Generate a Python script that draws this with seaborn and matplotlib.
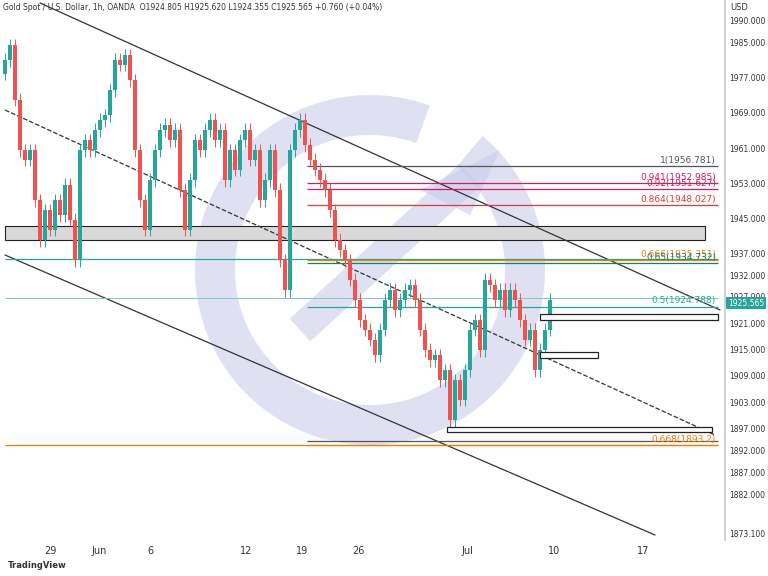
import matplotlib
matplotlib.use("Agg")
import matplotlib.pyplot as plt
import seaborn as sns
import numpy as np
from matplotlib.patches import Rectangle

sns.set_theme(style="white")
plt.rcParams['font.family'] = ['DejaVu Sans']

# close prices sampled along the time axis (x in bar-position units)
bar_x = list(range(5, 555, 5))
closes = [1981.1,1984.5,1972.0,1960.5,1958.3,1960.5,1949.1,1940.0,1946.8,1942.3,
          1949.1,1945.7,1952.6,1944.6,1935.4,1960.5,1962.8,1960.5,1965.1,1967.4,
          1968.5,1974.2,1981.1,1980.0,1982.2,1976.5,1960.5,1949.1,1942.3,1953.7,
          1960.5,1965.1,1966.3,1962.8,1965.1,1951.4,1942.3,1953.7,1962.8,1960.5,
          1965.1,1967.4,1962.8,1965.1,1953.7,1960.5,1956.0,1962.8,1965.1,1958.3,
          1960.5,1949.1,1953.7,1960.5,1951.4,1935.4,1928.6,1960.5,1965.1,1967.4,
          1961.7,1958.3,1956.0,1953.7,1951.4,1946.8,1940.0,1937.7,1935.4,1930.9,
          1926.3,1921.7,1919.5,1917.2,1913.7,1919.5,1926.3,1928.6,1924.0,1926.3,
          1928.6,1929.7,1926.3,1919.5,1914.9,1912.6,1913.7,1908.0,1910.3,1898.9,
          1908.0,1903.5,1910.3,1919.5,1921.7,1914.9,1930.9,1929.7,1926.3,1928.6,
          1924.0,1928.6,1926.3,1921.7,1917.2,1919.5,1910.3,1914.9,1919.5,1926.3]
opens = [1978.0] + closes[:-1]

y_ticks = [1990,1985,1977,1969,1961,1953,1945,1937,1932,1927,1921,1915,1909,1903,1897,1892,1887,1882,1873.1]
x_ticks = [50, 99, 150, 246, 302, 358, 467, 554, 643]
x_labels = ["29", "Jun", "6", "12", "19", "26", "Jul", "10", "17"]

fib_levels = [1956.781, 1952.985, 1951.627, 1948.027, 1935.351, 1934.732, 1924.788, 1893.2]
fib_labels = ["1(1956.781)", "0.941(1952.985)", "0.92(1951.627)", "0.864(1948.027)",
              "0.666(1935.351)", "0.65(1934.732)", "0.5(1924.788)", "0.668(1893.2)"]
fib_colors = ["#555555", "#d81b60", "#d81b60", "#e53935", "#f57c00", "#00897b", "#26a69a", "#f57c00"]

def py(ypix):  # pixel row -> price, used for annotations only
    return 1990 - (ypix - 21) / 4.38

fig = plt.figure(figsize=(7.68, 5.76), dpi=100)
ax = fig.add_axes([0, 36/576, 725/768, 540/576])
ax.set_xlim(0, 725)
ax.set_ylim(py(540), py(0))

# watermark ring (drawn in pixel geometry)
t = np.linspace(np.radians(70), np.radians(410), 200)
cx, cy, r1, r2 = 370, 270, 175, 135
xs = np.concatenate([cx + r1*np.cos(t), (cx + r2*np.cos(t))[::-1]])
ys = np.concatenate([cy - r1*np.sin(t), (cy - r2*np.sin(t))[::-1]])
ax.fill(xs, [py(v) for v in ys], color="#c5cae9", alpha=0.55, lw=0, zorder=0)
ax.fill([420, 500, 470], [py(190), py(150), py(215)], color="#c5cae9", alpha=0.55, lw=0, zorder=0)
ax.plot([300, 470], [py(330), py(175)], color="#c5cae9", alpha=0.55, lw=22, zorder=0, solid_capstyle="butt")

# candles
for x, o, c in zip(bar_x, opens, closes):
    col = "#26a69a" if c >= o else "#ef5350"
    ax.vlines(x, min(o, c) - 1.5, max(o, c) + 1.5, color=col, lw=0.7, zorder=3)
    ax.bar(x, max(abs(c - o), 0.3), bottom=min(o, c), width=3.2, color=col,
           edgecolor=col, linewidth=0, zorder=3)

# channel
ax.plot([40, 720], [py(3), py(310)], color="#333333", lw=0.9)
ax.plot([5, 655], [py(255), py(535)], color="#333333", lw=0.9)
ax.plot([5, 715], [py(110), py(435)], color="#333333", lw=0.9, ls="--")

# gray zone
ax.add_patch(Rectangle((5, py(240)), 700, py(226) - py(240), facecolor="#d9d9d9", edgecolor="#222222", lw=0.8, zorder=1))

# long horizontals
ax.hlines(py(259), 5, 718, color="#26a69a", lw=0.9)
ax.hlines(py(298), 5, 718, color="#80cbc4", lw=0.7)
ax.hlines(py(445), 5, 718, color="#f57c00", lw=0.9)
ax.hlines(py(441), 307, 718, color="#555555", lw=0.9)

for lvl, lab, col in zip(fib_levels, fib_labels, fib_colors):
    ax.hlines(lvl, 307, 718, color=col, lw=0.9)
    ax.text(716, lvl + 0.3, lab, color=col, fontsize=6.5, ha="right", va="bottom")

# boxes
for (x0, y0, x1, y1) in [(540, 314, 718, 320), (540, 352, 598, 358), (447, 427, 712, 432)]:
    ax.add_patch(Rectangle((x0, py(y1)), x1 - x0, py(y0) - py(y1), facecolor="white", edgecolor="#222222", lw=0.9, zorder=4))

ax.set_xticks(x_ticks)
ax.set_xticklabels(x_labels, fontsize=7, color="#333333")
ax.yaxis.tick_right()
ax.set_yticks(y_ticks)
ax.set_yticklabels([f"{v:.3f}" for v in y_ticks], fontsize=5.5, color="#333333")
ax.tick_params(axis="y", length=0, pad=3)
ax.tick_params(axis="x", length=0, pad=4)
for s in ["top", "left", "bottom"]:
    ax.spines[s].set_visible(False)
ax.spines["right"].set_color("#cccccc")

ax.text(728, 1925.565, "1925.565", transform=ax.transData, fontsize=5.5, color="white",
        ha="left", va="center", bbox=dict(boxstyle="square,pad=0.2", fc="#26a69a", ec="none"), clip_on=False, zorder=10)
fig.text(3/768, 1 - 8/576, "Gold Spot / U.S. Dollar, 1h, OANDA  O1924.805 H1925.620 L1924.355 C1925.565 +0.760 (+0.04%)",
         fontsize=5.5, color="#333333", va="center")
fig.text(730/768, 1 - 8/576, "USD", fontsize=6, color="#333333", va="center")
fig.text(8/768, 1 - 566/576, "TradingView", fontsize=6, color="#333333", va="center", fontweight="bold")
fig.savefig("out.png", dpi=100)
